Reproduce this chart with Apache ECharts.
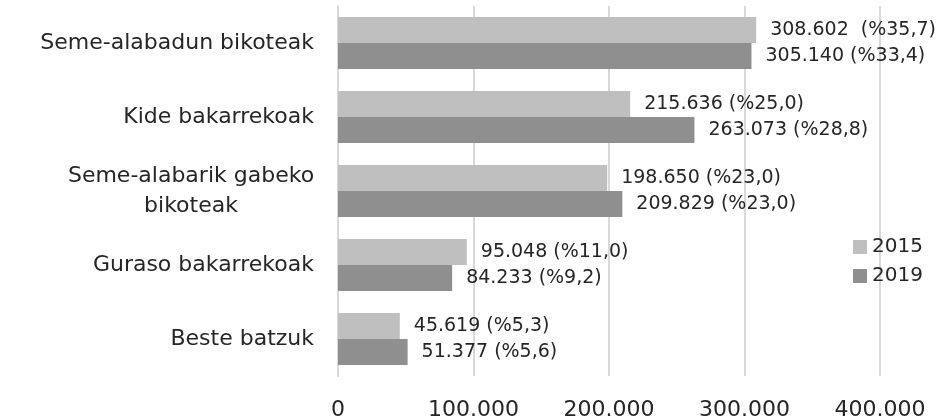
<!DOCTYPE html>
<html>
<head>
<meta charset="utf-8">
<script src="https://cdn.jsdelivr.net/npm/echarts@6/dist/echarts.min.js"></script>
<style>html,body{margin:0;padding:0;background:#fff}#c{width:949px;height:419px}</style>
</head>
<body>
<div id="c"></div>
<script>
const categories = ["Seme-alabadun bikoteak", "Kide bakarrekoak", "Seme-alabarik gabeko\nbikoteak", "Guraso bakarrekoak", "Beste batzuk"];
const seriesNames = ["2015", "2019"];
const values2015 = [308602, 215636, 198650, 95048, 45619];
const values2019 = [305140, 263073, 209829, 84233, 51377];
const pct2015 = ["35,7", "25,0", "23,0", "11,0", "5,3"];
const pct2019 = ["33,4", "28,8", "23,0", "9,2", "5,6"];
const xTicks = [0, 100000, 200000, 300000, 400000];

const FONT = '"DejaVu Sans", sans-serif';
function fmt(v) { return String(v).replace(/\B(?=(\d{3})+(?!\d))/g, '.'); }

const chart = echarts.init(document.getElementById('c'));
function mkSeries(name, vals, pcts, color, sep) {
  return {
    name: name, type: 'bar', data: vals,
    barWidth: 26, barGap: '0%',
    itemStyle: { color: color },
    label: {
      show: true, position: 'right', distance: 14,
      color: '#262626', fontFamily: FONT, fontSize: 19,
      formatter: p => fmt(vals[p.dataIndex]) + (p.dataIndex === 0 ? sep : ' ') + '(%' + pcts[p.dataIndex] + ')'
    }
  };
}
chart.setOption({
  animation: false,
  grid: { left: 338, right: 69, top: 6, bottom: 43, containLabel: false, outerBoundsMode: 'none' },
  legend: {
    orient: 'vertical', left: 853, top: 237, padding: 0,
    itemWidth: 14, itemHeight: 14, itemGap: 9,
    icon: 'rect',
    textStyle: { fontFamily: FONT, fontSize: 20, color: '#262626' },
    data: seriesNames
  },
  xAxis: {
    type: 'value', min: xTicks[0], max: xTicks[xTicks.length - 1], interval: xTicks[1] - xTicks[0],
    axisLine: { show: false }, axisTick: { show: false },
    splitLine: { show: true, lineStyle: { color: '#d9d9d9', width: 2 } },
    axisLabel: { margin: 23, fontFamily: FONT, fontSize: 22, color: '#262626', formatter: v => fmt(v) }
  },
  yAxis: {
    type: 'category', data: categories, inverse: true,
    axisLine: { show: true, lineStyle: { color: '#d9d9d9', width: 2 } },
    axisTick: { show: false },
    axisLabel: {
      margin: 24, color: '#262626', fontFamily: FONT, fontSize: 22, lineHeight: 30,
      formatter: v => v.indexOf('\n') >= 0 ? v.split('\n').map(s => '{w|' + s + '}').join('\n') : v,
      rich: { w: { width: 246, align: 'center', fontFamily: FONT, fontSize: 22, lineHeight: 30, color: '#262626' } }
    }
  },
  series: [
    mkSeries(seriesNames[0], values2015, pct2015, '#bfbfbf', '  '),
    mkSeries(seriesNames[1], values2019, pct2019, '#8f8f8f', ' ')
  ]
});
</script>
</body>
</html>
